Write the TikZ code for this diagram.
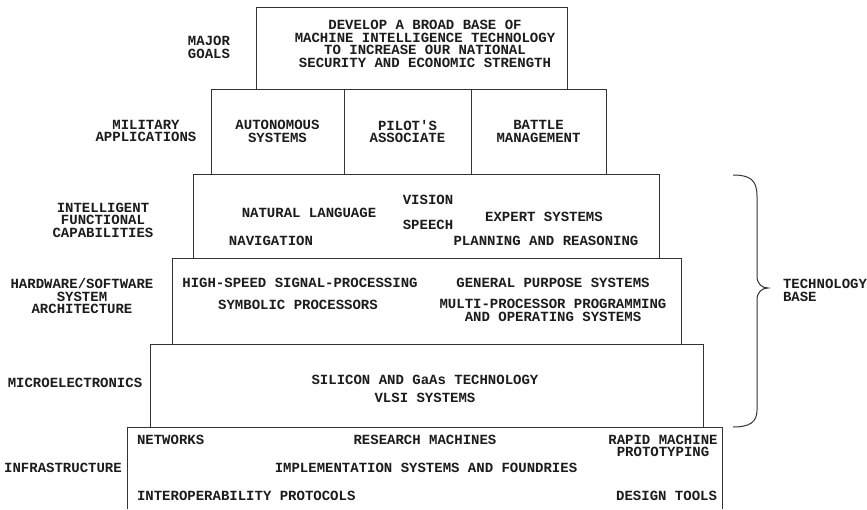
\documentclass[tikz,border=0pt]{standalone}
\usepackage{fontspec}
\newfontfamily\plotfont{Liberation Mono}[BoldFont={Liberation Mono Bold}]
\definecolor{ink}{HTML}{1C1C1C}
\definecolor{edge}{HTML}{333333}
\tikzset{
  lbl/.style={font=\plotfont\bfseries\fontsize{14}{12.5}\selectfont, text=ink, inner sep=0pt, outer sep=0pt, align=center},
  tier/.style={draw=edge, line width=1pt, inner sep=0pt, outer sep=0pt, anchor=north west},
  bracepath/.style={draw=edge, line width=1pt},
}
\begin{document}
\begin{tikzpicture}[x=1pt,y=-1pt]
\useasboundingbox[fill=white] (0,0) rectangle (867,509);

% ---- tiers (boxes) ----
\node[tier, minimum width=311pt, minimum height=82pt] (goalbox) at (256,7) {};
\node[tier, minimum width=133pt, minimum height=85pt, lbl] (auto) at (211,89) {AUTONOMOUS\\SYSTEMS};
\node[tier, minimum width=127pt, minimum height=85pt, lbl] (pilot) at (344,89) {PILOT'S\\ASSOCIATE};
\node[tier, minimum width=135pt, minimum height=85pt, lbl] (battle) at (471,89) {BATTLE\\MANAGEMENT};
\node[tier, minimum width=466pt, minimum height=84pt] (intbox) at (193,174) {};
\node[tier, minimum width=509pt, minimum height=86pt] (hwbox) at (172,258) {};
\node[tier, minimum width=553pt, minimum height=83pt] (mebox) at (150,344) {};
\node[inner sep=0pt, outer sep=0pt, anchor=north west, minimum width=595pt, minimum height=82pt] (infbox) at (127,427) {};
\draw[edge, line width=1pt] (infbox.south west) -- (infbox.north west) -- (infbox.north east) -- (infbox.south east);

% ---- top goal text ----
\node[lbl] (goaltxt) at (425,44) {DEVELOP A BROAD BASE OF\\MACHINE INTELLIGENCE TECHNOLOGY\\TO INCREASE OUR NATIONAL\\SECURITY AND ECONOMIC STRENGTH};

% ---- left labels ----
\node[lbl] (lgoal) at (209,47.5) {MAJOR\\GOALS};
\node[lbl] (lmil) at (146,131) {MILITARY\\APPLICATIONS};
\node[lbl] (lint) at (103,220) {INTELLIGENT\\FUNCTIONAL\\CAPABILITIES};
\node[lbl] (lhw) at (82,296) {HARDWARE/SOFTWARE\\SYSTEM\\ARCHITECTURE};
\node[lbl] (lme) at (75,383) {MICROELECTRONICS};
\node[lbl] (linf) at (63,468) {INFRASTRUCTURE};

% ---- intelligent functional capabilities ----
\node[lbl] (natlang) at (309,213) {NATURAL LANGUAGE};
\node[lbl] (vision) at (428,200) {VISION};
\node[lbl] (speech) at (428,225) {SPEECH};
\node[lbl] (expert) at (544,217) {EXPERT SYSTEMS};
\node[lbl] (navig) at (271,241) {NAVIGATION};
\node[lbl] (plan) at (546,241) {PLANNING AND REASONING};

% ---- hardware/software ----
\node[lbl] (hsp) at (300,283) {HIGH-SPEED SIGNAL-PROCESSING};
\node[lbl] (symb) at (298,305) {SYMBOLIC PROCESSORS};
\node[lbl] (gps) at (553,283) {GENERAL PURPOSE SYSTEMS};
\node[lbl] (mpp) at (553,310.5) {MULTI-PROCESSOR PROGRAMMING\\AND OPERATING SYSTEMS};

% ---- microelectronics ----
\node[lbl] (silicon) at (425,380) {SILICON AND GaAs TECHNOLOGY};
\node[lbl] (vlsi) at (425,398) {VLSI SYSTEMS};

% ---- infrastructure ----
\node[lbl, anchor=west] (netw) at (137,440) {NETWORKS};
\node[lbl] (resm) at (425,440) {RESEARCH MACHINES};
\node[lbl] (rapid) at (663,446) {RAPID MACHINE\\PROTOTYPING};
\node[lbl] (impl) at (426,468) {IMPLEMENTATION SYSTEMS AND FOUNDRIES};
\node[lbl, anchor=west] (interop) at (137,496) {INTEROPERABILITY PROTOCOLS};
\node[lbl, anchor=east] (design) at (717,496) {DESIGN TOOLS};

% ---- brace ----
\coordinate (brtop) at (733,175);
\coordinate (brtip) at (768,288);
\coordinate (brbot) at (733,427);
\draw[bracepath] (brtop) .. controls (750,175) and (757,180) .. (757,196)
  -- (757,276) .. controls (757,284) and (762,288) .. (brtip)
  .. controls (762,288) and (757,292) .. (757,300)
  -- (757,410) .. controls (757,422) and (750,427) .. (brbot);
\node[lbl, align=left, anchor=west] (techbase) at (783,290.5) {TECHNOLOGY\\BASE};
\end{tikzpicture}
\end{document}
